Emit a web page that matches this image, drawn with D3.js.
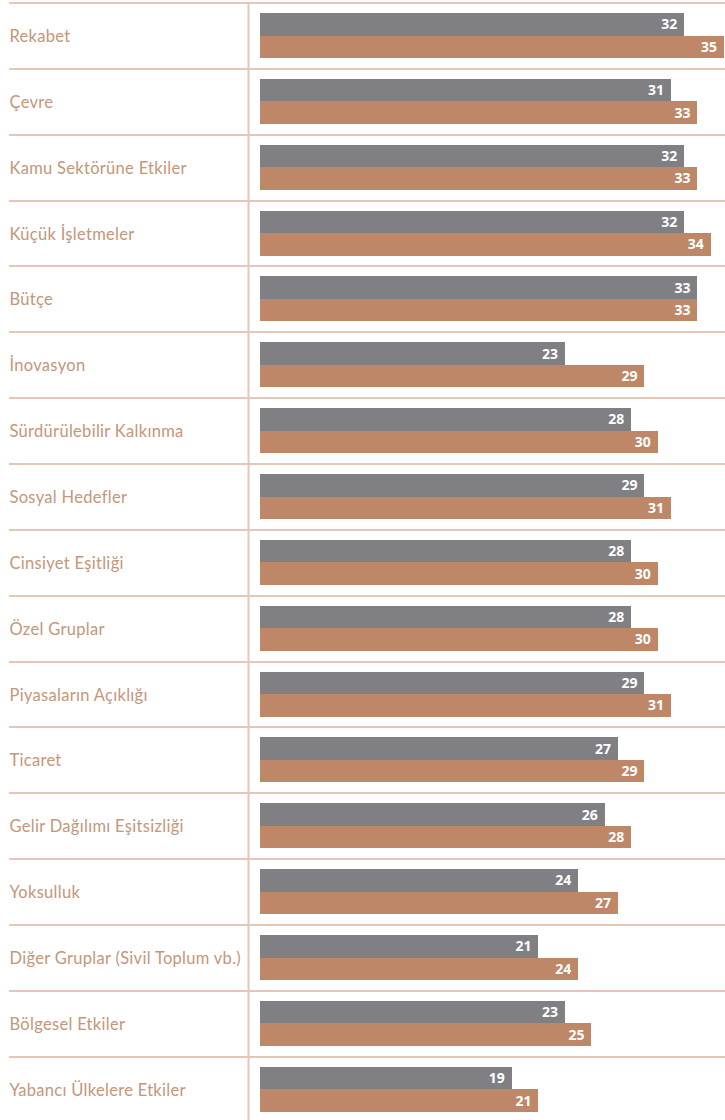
<!DOCTYPE html>
<html>
<head>
<meta charset="utf-8">
<script src="https://cdn.jsdelivr.net/npm/d3@7"></script>
<style>
  html, body { margin: 0; padding: 0; background: #fff; }
  svg { display: block; }
</style>
</head>
<body>
<svg id="chart" width="725" height="1120"></svg>
<script>
const categories = [
  "Rekabet", "Çevre", "Kamu Sektörüne Etkiler", "Küçük İşletmeler", "Bütçe",
  "İnovasyon", "Sürdürülebilir Kalkınma", "Sosyal Hedefler", "Cinsiyet Eşitliği",
  "Özel Gruplar", "Piyasaların Açıklığı", "Ticaret", "Gelir Dağılımı Eşitsizliği",
  "Yoksulluk", "Diğer Gruplar (Sivil Toplum vb.)", "Bölgesel Etkiler",
  "Yabancı Ülkelere Etkiler"
];
const seriesGray   = [32, 31, 32, 32, 33, 23, 28, 29, 28, 28, 29, 27, 26, 24, 21, 23, 19];
const seriesCopper = [35, 33, 33, 34, 33, 29, 30, 31, 30, 30, 31, 29, 28, 27, 24, 25, 21];

(function () {
  const W = 725, H = 1120;
  const gridTop = 3, rowH = 65.86;
  const svg = d3.select("#chart");

  const y = d3.scaleBand()
    .domain(categories)
    .range([gridTop, gridTop + rowH * categories.length])
    .paddingInner(0).paddingOuter(0);

  const x = d3.scaleLinear().domain([0, 35]).range([260, 724]);

  const lineColor = "#e4c7b8";

  // row separators
  svg.append("g").selectAll("line")
    .data(categories)
    .join("line")
    .attr("x1", 9).attr("x2", W)
    .attr("y1", d => Math.round(y(d))).attr("y2", d => Math.round(y(d)))
    .attr("stroke", lineColor).attr("stroke-width", 2);

  // vertical divider between labels and bars
  svg.append("line")
    .attr("x1", 248.5).attr("x2", 248.5)
    .attr("y1", gridTop - 1).attr("y2", H)
    .attr("stroke", lineColor).attr("stroke-width", 2);

  // category labels
  svg.append("g").selectAll("text")
    .data(categories)
    .join("text")
    .attr("x", 9.5)
    .attr("y", d => y(d) + y.bandwidth() / 2 + 6)
    .attr("fill", "#c4967a")
    .attr("font-family", "Lato, 'Open Sans', sans-serif")
    .attr("font-size", 16.5)
    .attr("letter-spacing", 0.3)
    .text(d => d);

  const barH = 22.5;
  const off1 = 10, off2 = off1 + barH;

  const groups = [
    { values: seriesGray, color: "#808084", off: off1 },
    { values: seriesCopper, color: "#be8868", off: off2 }
  ];

  groups.forEach(g => {
    const layer = svg.append("g");
    layer.selectAll("rect")
      .data(categories)
      .join("rect")
      .attr("x", x(0))
      .attr("y", d => Math.round(y(d) + g.off))
      .attr("width", (d, i) => x(g.values[i]) - x(0))
      .attr("height", (d) => Math.round(y(d) + g.off + barH) - Math.round(y(d) + g.off))
      .attr("fill", g.color)
      .attr("shape-rendering", "crispEdges");
    layer.selectAll("text")
      .data(categories)
      .join("text")
      .attr("x", (d, i) => x(g.values[i]) - 7)
      .attr("y", d => y(d) + g.off + barH / 2 + 5)
      .attr("text-anchor", "end")
      .attr("fill", "#fff")
      .attr("font-family", "'Open Sans', sans-serif")
      .attr("font-weight", "bold")
      .attr("font-size", 14)
      .text((d, i) => g.values[i]);
  });
})();
</script>
</body>
</html>
